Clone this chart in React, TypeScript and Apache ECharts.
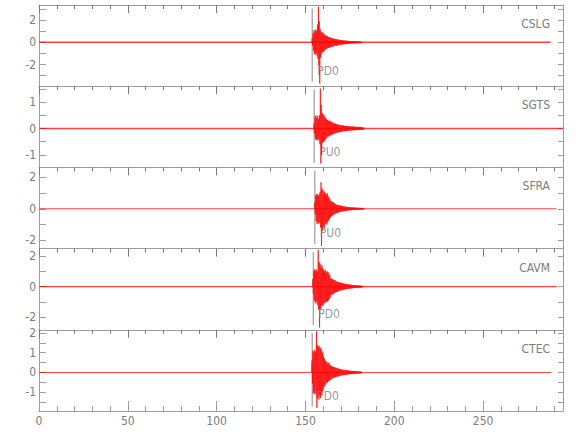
import React, { useEffect, useRef } from "react";
import * as echarts from "echarts";

const stations = ["CSLG", "SGTS", "SFRA", "CAVM", "CTEC"];
const pickLabels = ["PD0", "PU0", "PU0", "PD0", "PD0"];
const pickTimes = [153.8, 154.9, 155.3, 154.4, 153.8];
const onsetTimes = [153.8, 154.9, 155.3, 154.2, 153.7];
const traceStarts = [0.3, 0.3, 0.3, 0.3, 0.3];
const traceEnds = [288, 295, 291.3, 291.5, 288.5];
const yMins = [-3.94, -1.48, -2.54, -2.81, -1.95];
const yMaxs = [3.36, 1.61, 2.64, 2.47, 2.16];
const yLabelTicks = [[-2, 0, 2], [-1, 0, 1], [-2, 0, 2], [-2, 0, 2], [-1, 0, 1, 2]];
const yAllTicks = [
  [-3, -2, -1, 0, 1, 2, 3],
  [-1, -0.5, 0, 0.5, 1, 1.5],
  [-2, -1, 0, 1, 2],
  [-2, -1, 0, 1, 2],
  [-1.5, -1, -0.5, 0, 0.5, 1, 1.5, 2],
];
const xMin = 0;
const xMax = 295;
const xLabelTicks = [0, 50, 100, 150, 200, 250];
const xMinorTicks = [10, 20, 30, 40, 60, 70, 80, 90, 110, 120, 130, 140, 160, 170, 180, 190, 210, 220, 230, 240, 260, 270, 280, 290];
const binStep = 0.5;

// envelope: positive and negative peaks per 0.5 s bin after onset
const cslgUp = [0.35, 0.8, 1.1, 0.95, 1.15, 1.05, 1.6, 3.2, 1.9, 1.2, 0.95, 0.85, 0.9, 0.75, 0.7, 0.62, 0.55, 0.6, 0.5, 0.45, 0.48, 0.4, 0.36, 0.38, 0.33, 0.3, 0.32, 0.28, 0.26, 0.27, 0.24, 0.22, 0.2, 0.21, 0.18, 0.17, 0.18, 0.16, 0.15, 0.14, 0.15, 0.13, 0.12, 0.12, 0.11, 0.12, 0.1, 0.1, 0.09, 0.1, 0.09, 0.08, 0.08, 0.09, 0.07, 0.07];
const cslgDown = [-0.3, -0.75, -1.05, -1.1, -0.95, -1.2, -1.5, -2.1, -3.7, -1.4, -1.0, -0.9, -0.85, -0.8, -0.68, -0.6, -0.58, -0.52, -0.5, -0.47, -0.42, -0.44, -0.38, -0.35, -0.34, -0.3, -0.29, -0.3, -0.26, -0.25, -0.24, -0.21, -0.22, -0.19, -0.18, -0.18, -0.16, -0.15, -0.16, -0.14, -0.13, -0.14, -0.12, -0.11, -0.12, -0.1, -0.1, -0.1, -0.09, -0.09, -0.08, -0.09, -0.08, -0.07, -0.07, -0.07];
const sgtsUp = [0.2, 0.45, 0.5, 0.4, 0.48, 0.35, 0.5, 1.52, 0.9, 0.6, 0.55, 0.5, 0.45, 0.4, 0.35, 0.32, 0.3, 0.28, 0.3, 0.25, 0.22, 0.24, 0.2, 0.18, 0.19, 0.16, 0.15, 0.16, 0.14, 0.13, 0.13, 0.12, 0.11, 0.12, 0.1, 0.1, 0.09, 0.1, 0.09, 0.08, 0.08, 0.08, 0.07, 0.08, 0.07, 0.07, 0.06, 0.07, 0.06, 0.06, 0.06, 0.05, 0.06, 0.05, 0.05, 0.05];
const sgtsDown = [-0.2, -0.4, -0.44, -0.45, -0.38, -0.45, -0.6, -1.33, -1.0, -0.55, -0.5, -0.48, -0.42, -0.38, -0.34, -0.3, -0.3, -0.27, -0.25, -0.26, -0.22, -0.2, -0.21, -0.18, -0.17, -0.16, -0.16, -0.14, -0.13, -0.14, -0.12, -0.12, -0.11, -0.1, -0.11, -0.09, -0.1, -0.09, -0.08, -0.08, -0.08, -0.07, -0.07, -0.07, -0.07, -0.06, -0.06, -0.06, -0.06, -0.05, -0.06, -0.05, -0.05, -0.05, -0.05, -0.05];
const sfraUp = [0.4, 0.85, 0.95, 0.9, 0.8, 0.95, 1.1, 1.69, 1.3, 1.2, 1.0, 1.1, 0.95, 0.9, 1.0, 0.8, 0.7, 0.6, 0.5, 0.45, 0.42, 0.4, 0.35, 0.3, 0.28, 0.25, 0.24, 0.22, 0.2, 0.21, 0.18, 0.17, 0.16, 0.15, 0.15, 0.13, 0.12, 0.12, 0.11, 0.1, 0.1, 0.09, 0.09, 0.08, 0.08, 0.08, 0.07, 0.07, 0.07, 0.06, 0.06, 0.06, 0.06, 0.05, 0.05, 0.05];
const sfraDown = [-0.35, -0.8, -0.98, -0.9, -0.95, -0.85, -1.2, -2.37, -1.4, -1.1, -1.25, -1.0, -0.9, -1.0, -0.85, -0.75, -0.65, -0.55, -0.5, -0.45, -0.4, -0.38, -0.33, -0.3, -0.27, -0.26, -0.23, -0.22, -0.2, -0.19, -0.18, -0.16, -0.15, -0.15, -0.13, -0.13, -0.12, -0.11, -0.1, -0.1, -0.09, -0.09, -0.08, -0.08, -0.08, -0.07, -0.07, -0.07, -0.06, -0.06, -0.06, -0.06, -0.05, -0.05, -0.05, -0.05];
const cavmUp = [0.5, 1.0, 1.13, 1.0, 1.1, 0.95, 2.38, 1.6, 1.5, 1.3, 1.4, 1.2, 1.1, 1.0, 1.1, 0.9, 1.0, 0.95, 0.85, 0.75, 0.55, 0.5, 0.48, 0.45, 0.4, 0.42, 0.35, 0.33, 0.3, 0.28, 0.26, 0.25, 0.24, 0.22, 0.2, 0.2, 0.18, 0.17, 0.16, 0.15, 0.14, 0.13, 0.13, 0.12, 0.11, 0.1, 0.1, 0.09, 0.09, 0.08, 0.08, 0.08, 0.07, 0.07, 0.07, 0.06];
const cavmDown = [-0.45, -0.9, -1.04, -1.1, -0.95, -1.2, -1.5, -2.66, -1.47, -1.3, -1.2, -1.25, -1.1, -1.05, -0.95, -1.0, -0.95, -0.9, -0.8, -0.7, -0.55, -0.52, -0.5, -0.45, -0.42, -0.38, -0.36, -0.33, -0.3, -0.28, -0.27, -0.25, -0.23, -0.22, -0.2, -0.19, -0.18, -0.17, -0.16, -0.15, -0.14, -0.13, -0.12, -0.12, -0.11, -0.1, -0.1, -0.09, -0.09, -0.08, -0.08, -0.08, -0.07, -0.07, -0.07, -0.06];
const ctecUp = [0.6, 1.1, 1.0, 1.15, 1.05, 2.07, 1.4, 1.3, 1.36, 1.2, 1.25, 1.1, 1.0, 0.8, 0.7, 0.6, 0.55, 0.5, 0.45, 0.5, 0.4, 0.35, 0.32, 0.3, 0.28, 0.27, 0.25, 0.24, 0.22, 0.2, 0.19, 0.18, 0.17, 0.15, 0.14, 0.14, 0.13, 0.12, 0.12, 0.11, 0.1, 0.1, 0.09, 0.09, 0.08, 0.08, 0.08, 0.07, 0.07, 0.07, 0.06, 0.06, 0.06, 0.05, 0.05, 0.05];
const ctecDown = [-0.55, -1.05, -1.1, -0.95, -1.1, -1.79, -1.3, -1.36, -1.2, -1.3, -1.15, -1.0, -0.9, -0.75, -0.65, -0.6, -0.5, -0.52, -0.45, -0.4, -0.38, -0.35, -0.3, -0.3, -0.27, -0.25, -0.24, -0.22, -0.21, -0.2, -0.18, -0.17, -0.16, -0.15, -0.14, -0.13, -0.13, -0.12, -0.11, -0.1, -0.1, -0.09, -0.09, -0.08, -0.08, -0.08, -0.07, -0.07, -0.07, -0.06, -0.06, -0.06, -0.05, -0.05, -0.05, -0.05];

const envUp = [cslgUp, sgtsUp, sfraUp, cavmUp, ctecUp];
const envDown = [cslgDown, sgtsDown, sfraDown, cavmDown, ctecDown];

const GRID_TOP = 5;
const GRID_H = 81.2;
const LEFT = 39;
const RIGHT = 17;
const AXIS_COLOR = "#9c9c9c";
const TICK_COLOR = "#7a7a7a";
const TEXT_COLOR = "#7c7c7c";
const FONT = "'Liberation Sans Narrow', 'DejaVu Sans Condensed', 'Roboto', sans-serif";
const baseWidths = [1.5, 1.3, 1.1, 1.3, 1.0];

function buildEvent(i: number): number[][] {
  const up = envUp[i];
  const down = envDown[i];
  const t0 = onsetTimes[i];
  const pts: number[][] = [[t0 - 0.3, 0]];
  const n = Math.max(up.length, down.length);
  for (let k = 0; k < n; k++) {
    pts.push([t0 + k * binStep, up[k] ?? 0]);
    pts.push([t0 + k * binStep + binStep / 2, down[k] ?? 0]);
  }
  pts.push([t0 + n * binStep, 0]);
  return pts;
}

export default function App() {
  const ref = useRef<HTMLDivElement>(null);
  useEffect(() => {
    document.body.style.margin = "0";
    if (!ref.current) return;
    const chart = echarts.init(ref.current, undefined, { renderer: "svg" });
    const n = stations.length;
    const grids = stations.map((_, i) => ({
      left: LEFT,
      right: RIGHT,
      top: GRID_TOP + i * GRID_H,
      height: GRID_H,
    }));
    const baseX = {
      type: "value",
      min: xMin,
      max: xMax,
      splitLine: { show: false },
      axisLabel: { show: false },
    };
    const xAxes: any[] = [];
    stations.forEach((_, i) => {
      xAxes.push({
        ...baseX,
        gridIndex: i,
        position: "top",
        axisLine: { show: true, onZero: false, lineStyle: { color: AXIS_COLOR, width: 1 } },
        axisTick: { show: true, inside: true, length: 8, customValues: xLabelTicks, lineStyle: { color: TICK_COLOR } },
      });
      xAxes.push({
        ...baseX,
        gridIndex: i,
        position: "top",
        axisLine: { show: false, onZero: false },
        axisTick: { show: true, inside: true, length: 4, customValues: xMinorTicks, lineStyle: { color: TICK_COLOR } },
      });
    });
    xAxes.push({
      ...baseX,
      gridIndex: n - 1,
      position: "bottom",
      axisLine: { show: true, onZero: false, lineStyle: { color: AXIS_COLOR, width: 1 } },
      axisTick: { show: true, inside: true, length: 10, customValues: xLabelTicks, lineStyle: { color: AXIS_COLOR } },
      axisLabel: { show: true, customValues: xLabelTicks, color: TEXT_COLOR, fontSize: 12, fontFamily: FONT, margin: 4 },
    });
    xAxes.push({
      ...baseX,
      gridIndex: n - 1,
      position: "bottom",
      axisLine: { show: false, onZero: false },
      axisTick: { show: true, inside: true, length: 5, customValues: xMinorTicks, lineStyle: { color: AXIS_COLOR } },
    });

    const yAxes: any[] = [];
    stations.forEach((_, i) => {
      yAxes.push({
        type: "value",
        gridIndex: i,
        position: "left",
        min: yMins[i],
        max: yMaxs[i],
        splitLine: { show: false },
        axisLine: { show: true, onZero: false, lineStyle: { color: AXIS_COLOR, width: 1 } },
        axisTick: { show: true, inside: true, length: 7, customValues: yAllTicks[i], lineStyle: { color: AXIS_COLOR } },
        axisLabel: { show: true, customValues: yLabelTicks[i], color: TEXT_COLOR, fontSize: 12, fontFamily: FONT, margin: 3 },
      });
      yAxes.push({
        type: "value",
        gridIndex: i,
        position: "right",
        min: yMins[i],
        max: yMaxs[i],
        splitLine: { show: false },
        axisLine: { show: true, onZero: false, lineStyle: { color: AXIS_COLOR, width: 1 } },
        axisTick: { show: true, inside: true, length: 5, customValues: yAllTicks[i], lineStyle: { color: AXIS_COLOR } },
        axisLabel: { show: false },
      });
    });

    const series: any[] = [];
    stations.forEach((name, i) => {
      const range = yMaxs[i] - yMins[i];
      const perPx = range / GRID_H;
      const lineBottom = yMins[i] + 4.5 * perPx;
      const lineTop = yMaxs[i] - 3.5 * perPx;
      series.push({
        type: "line",
        xAxisIndex: 2 * i,
        yAxisIndex: 2 * i,
        data: [[traceStarts[i], 0], [traceEnds[i], 0]],
        showSymbol: false,
        silent: true,
        lineStyle: { color: "rgba(255,0,0,0.75)", width: baseWidths[i] },
      });
      series.push({
        type: "line",
        xAxisIndex: 2 * i,
        yAxisIndex: 2 * i,
        data: [[pickTimes[i], lineBottom], [pickTimes[i], lineTop]],
        showSymbol: false,
        silent: true,
        lineStyle: { color: "#8a8a8a", width: 1 },
        z: 1,
      });
      series.push({
        name,
        type: "line",
        xAxisIndex: 2 * i,
        yAxisIndex: 2 * i,
        data: buildEvent(i),
        showSymbol: false,
        silent: true,
        lineStyle: { color: "#ff0000", width: 0.7 },
        z: 3,
      });
      series.push({
        type: "scatter",
        xAxisIndex: 2 * i,
        yAxisIndex: 2 * i,
        symbolSize: 0,
        silent: true,
        data: [{ value: [pickTimes[i], lineBottom], name: pickLabels[i] }],
        label: {
          show: true,
          formatter: pickLabels[i],
          position: [5, -17],
          color: TEXT_COLOR,
          fontSize: 12,
          fontFamily: FONT,
        },
        z: 5,
      });
    });

    const graphic = stations.map((name, i) => ({
      type: "text",
      right: 30,
      top: GRID_TOP + i * GRID_H + 13,
      style: { text: name, fill: TEXT_COLOR, font: `12px ${FONT}` },
      z: 10,
    }));

    chart.setOption({
      animation: false,
      backgroundColor: "#ffffff",
      grid: grids,
      xAxis: xAxes,
      yAxis: yAxes,
      series,
      graphic,
    });
    return () => chart.dispose();
  }, []);
  return <div ref={ref} style={{ width: 580, height: 440 }} />;
}
